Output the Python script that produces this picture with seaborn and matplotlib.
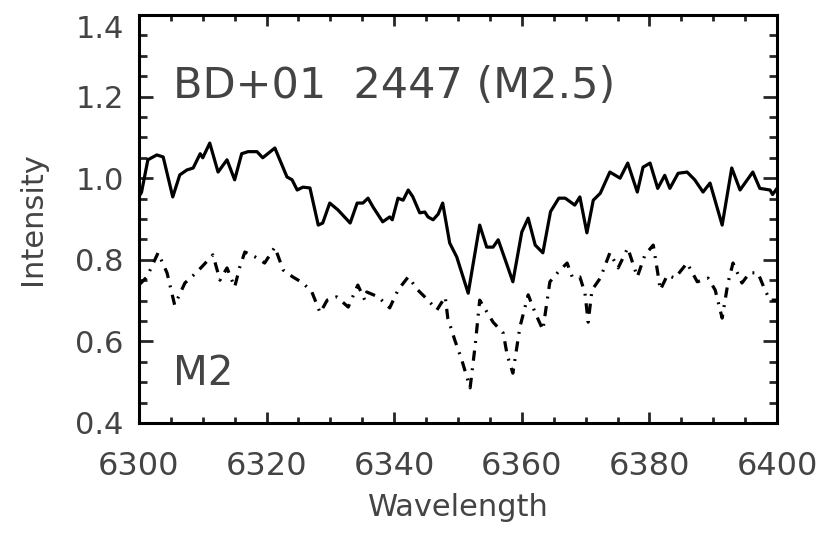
import numpy as np
import pandas as pd
import matplotlib
matplotlib.use("Agg")
import matplotlib.pyplot as plt
import seaborn as sns
from matplotlib.ticker import MultipleLocator

# ---- data ----
wl_star = [6300.0, 6300.4, 6301.4, 6302.8, 6303.8, 6305.3, 6306.4, 6307.5, 6308.5, 6309.6,
           6310.0, 6311.1, 6312.4, 6313.8, 6315.0, 6316.1, 6317.1, 6318.5, 6319.4, 6321.3,
           6323.2, 6324.0, 6324.8, 6325.7, 6326.8, 6328.1, 6328.8, 6329.9, 6331.2, 6333.1,
           6334.2, 6335.1, 6335.9, 6336.7, 6338.2, 6339.3, 6339.7, 6340.6, 6341.4, 6342.2,
           6342.9, 6344.0, 6344.8, 6345.3, 6346.1, 6346.9, 6347.6, 6348.7, 6349.8, 6351.6,
           6353.4, 6354.5, 6355.5, 6356.3, 6357.4, 6358.6, 6360.0, 6361.0, 6362.1, 6363.3,
           6364.5, 6365.8, 6366.8, 6368.3, 6369.1, 6370.2, 6371.2, 6372.3, 6373.8, 6375.4,
           6376.6, 6378.1, 6379.0, 6380.1, 6381.3, 6382.4, 6383.2, 6384.5, 6385.9, 6387.1,
           6388.4, 6389.5, 6391.4, 6392.9, 6394.2, 6396.2, 6397.3, 6398.9, 6399.3, 6400.0]
int_star = [0.955, 0.965, 1.045, 1.057, 1.052, 0.954, 1.008, 1.020, 1.025, 1.060,
            1.050, 1.086, 1.015, 1.045, 0.996, 1.060, 1.065, 1.065, 1.050, 1.074,
            1.003, 0.996, 0.971, 0.978, 0.976, 0.885, 0.890, 0.939, 0.922, 0.890,
            0.939, 0.939, 0.951, 0.929, 0.893, 0.905, 0.898, 0.951, 0.946, 0.971,
            0.955, 0.915, 0.917, 0.905, 0.898, 0.912, 0.939, 0.841, 0.807, 0.718,
            0.885, 0.831, 0.831, 0.849, 0.800, 0.746, 0.868, 0.902, 0.836, 0.817,
            0.918, 0.951, 0.951, 0.934, 0.954, 0.866, 0.946, 0.963, 1.015, 1.000,
            1.037, 0.966, 1.027, 1.037, 0.975, 1.007, 0.975, 1.012, 1.015, 0.996,
            0.966, 0.988, 0.885, 1.025, 0.971, 1.015, 0.975, 0.971, 0.960, 0.975]

wl_ref = [6300.0, 6301.25, 6303.0, 6304.4, 6305.6, 6307.2, 6309.1, 6311.6, 6312.7, 6313.8,
          6315.0, 6315.8, 6316.6, 6318.2, 6319.7, 6321.3, 6322.6, 6324.1, 6325.7, 6327.1,
          6328.4, 6329.5, 6331.0, 6332.8, 6334.3, 6335.4, 6335.7, 6337.5, 6339.3, 6340.6,
          6342.2, 6343.7, 6345.3, 6346.7, 6348.0, 6348.4, 6349.5, 6350.6, 6351.9, 6352.7,
          6353.4, 6355.5, 6357.1, 6357.7, 6358.6, 6359.7, 6361.0, 6362.1, 6363.3, 6364.4,
          6365.7, 6367.1, 6367.9, 6369.1, 6369.9, 6370.4, 6371.0, 6372.3, 6373.8, 6375.1,
          6376.6, 6378.1, 6379.3, 6380.6, 6381.3, 6381.7, 6382.8, 6384.0, 6385.9, 6387.5,
          6389.2, 6390.3, 6391.4, 6392.3, 6393.1, 6394.5, 6395.7, 6397.0, 6398.1, 6398.9,
          6400.0]
int_ref = [0.738, 0.758, 0.817, 0.768, 0.689, 0.743, 0.770, 0.812, 0.750, 0.780,
           0.733, 0.782, 0.819, 0.807, 0.792, 0.831, 0.775, 0.758, 0.743, 0.721,
           0.670, 0.701, 0.709, 0.684, 0.738, 0.701, 0.721, 0.709, 0.682, 0.726,
           0.758, 0.726, 0.701, 0.677, 0.709, 0.657, 0.603, 0.554, 0.486, 0.591,
           0.701, 0.647, 0.620, 0.567, 0.522, 0.635, 0.714, 0.670, 0.628, 0.746,
           0.770, 0.792, 0.758, 0.758, 0.718, 0.647, 0.726, 0.755, 0.817, 0.780,
           0.829, 0.758, 0.812, 0.836, 0.768, 0.726, 0.762, 0.755, 0.792, 0.746,
           0.755, 0.726, 0.657, 0.743, 0.792, 0.743, 0.768, 0.768, 0.726, 0.701,
           0.701]

star_label = "BD+01  2447 (M2.5)"
ref_label = "M2"
x_ticks = [6300, 6320, 6340, 6360, 6380, 6400]
y_ticks = [0.4, 0.6, 0.8, 1.0, 1.2, 1.4]

# ---- style ----
sns.set_style("ticks")
plt.rcParams['font.family'] = ['DejaVu Sans']
txt_col = '#444444'

fig = plt.figure(figsize=(8.27, 5.34), dpi=100)
ax = fig.add_axes([0.168, 0.208, 0.7716, 0.7639])

df_star = pd.DataFrame({"Wavelength": wl_star, "Intensity": int_star})
df_ref = pd.DataFrame({"Wavelength": wl_ref, "Intensity": int_ref})

sns.lineplot(data=df_star, x="Wavelength", y="Intensity", ax=ax, color='black',
             lw=2.3, estimator=None, sort=False)
sns.lineplot(data=df_ref, x="Wavelength", y="Intensity", ax=ax, color='black',
             lw=2.3, estimator=None, sort=False, linestyle=(0, (3.2, 2.4, 0.6, 2.4)))

ax.set_xlim(6300, 6400)
ax.set_ylim(0.4, 1.4)
ax.set_xticks(x_ticks)
ax.set_yticks(y_ticks)
ax.set_xticklabels([str(v) for v in x_ticks])
ax.set_yticklabels([f"{v:.1f}" for v in y_ticks])
ax.xaxis.set_minor_locator(MultipleLocator(5))
ax.yaxis.set_minor_locator(MultipleLocator(0.05))

for s in ax.spines.values():
    s.set_linewidth(2.2)
    s.set_color('black')
    s.set_visible(True)

ax.tick_params(axis='x', which='major', direction='in', length=8, width=2,
               top=True, bottom=True, labelsize=23, labelcolor=txt_col, pad=20)
ax.tick_params(axis='x', which='minor', direction='in', length=4, width=2,
               top=True, bottom=True)
ax.tick_params(axis='y', which='major', direction='in', length=10, width=2,
               left=True, right=True, labelsize=22, labelcolor=txt_col, pad=11)
ax.tick_params(axis='y', which='minor', direction='in', length=6, width=2,
               left=True, right=True)

ax.get_yticklabels()[-1].set_va('top')

ax.set_xlabel("Wavelength", fontsize=22, color=txt_col, labelpad=8)
ax.set_ylabel("Intensity", fontsize=22, color=txt_col, labelpad=20)

ax.text(6305.3, 1.197, star_label, fontsize=31, color=txt_col, va='baseline', ha='left')
ax.text(6305.3, 0.493, ref_label, fontsize=29, color=txt_col, va='baseline', ha='left')

fig.savefig("out.png", dpi=100)
